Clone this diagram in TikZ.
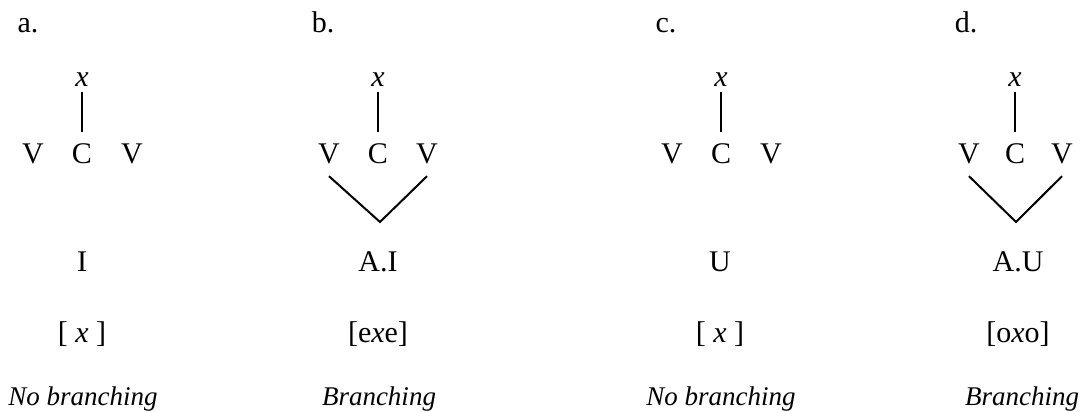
\documentclass[tikz,border=0pt]{standalone}
\usepackage{fontspec}
\setmainfont{Liberation Serif}
\usetikzlibrary{positioning}
\newcommand{\glsize}{\fontsize{12}{14.4}\selectfont}
\tikzset{
  seg/.style   = {font=\glsize, anchor=base, inner sep=4.5pt},
  slot/.style  = {font=\glsize\itshape, anchor=base, inner sep=2pt},
  txt/.style   = {font=\glsize, anchor=base, inner sep=1pt},
  tag/.style   = {txt, font=\fontsize{10.8}{13}\selectfont\itshape},
  assoc/.style = {line width=0.8pt},
}

\begin{document}
\begin{tikzpicture}[x=0.4pt, y=-0.4pt]
    \useasboundingbox (0,0) rectangle (1081,412);

    % a.
    \node[txt] (alab) at (28,33) {a.};
    \node[slot] (ax)  at (82,87)  {x};
    \node[seg]  (aV1) at (33,164) {V};
    \node[seg]  (aC)  at (82,164) {C};
    \node[seg]  (aV2) at (132,164){V};
    \draw[assoc] (ax) -- (aC);
    \node[txt] (aelt) at (82,272) {I};
    \node[txt] (aout) at (82,343) {[ \textit{x} ]};
    \node[tag] (atag) at (83,406) {No branching};

    % b.
    \node[txt] (blab) at (323,33) {b.};
    \node[slot] (bx)  at (378,87)  {x};
    \node[seg]  (bV1) at (329,164) {V};
    \node[seg]  (bC)  at (378,164) {C};
    \node[seg]  (bV2) at (427,164) {V};
    \coordinate (bjoin) at (380,222);
    \draw[assoc] (bx) -- (bC);
    \draw[assoc] (bV1.south) -- (bjoin) -- (bV2.south);
    \node[txt] (belt) at (378,272) {A.I};
    \node[txt] (bout) at (378,343) {[e\textit{x}e]};
    \node[tag] (btag) at (379,406) {Branching};

    % c.
    \node[txt] (clab) at (666,33) {c.};
    \node[slot] (cx)  at (721,87)  {x};
    \node[seg]  (cV1) at (672,164) {V};
    \node[seg]  (cC)  at (721,164) {C};
    \node[seg]  (cV2) at (771,164) {V};
    \draw[assoc] (cx) -- (cC);
    \node[txt] (celt) at (720,272) {U};
    \node[txt] (cout) at (720,343) {[ \textit{x} ]};
    \node[tag] (ctag) at (721,406) {No branching};

    % d.
    \node[txt] (dlab) at (966,33) {d.};
    \node[slot] (dx)  at (1015,87)  {x};
    \node[seg]  (dV1) at (969,164)  {V};
    \node[seg]  (dC)  at (1015,164) {C};
    \node[seg]  (dV2) at (1062,164) {V};
    \coordinate (djoin) at (1016,222);
    \draw[assoc] (dx) -- (dC);
    \draw[assoc] (dV1.south) -- (djoin) -- (dV2.south);
    \node[txt] (delt) at (1018,272) {A.U};
    \node[txt] (dout) at (1018,343) {[o\textit{x}o]};
    \node[tag] (dtag) at (1022,406) {Branching};
  \end{tikzpicture}
\end{document}
